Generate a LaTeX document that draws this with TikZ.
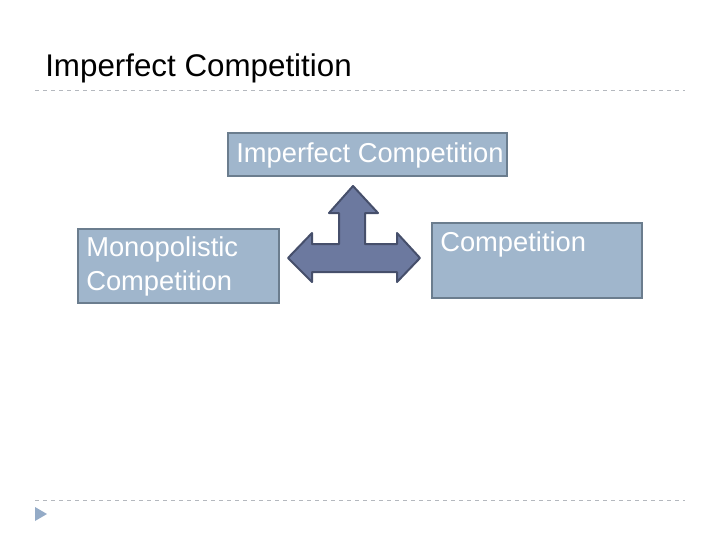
\documentclass[tikz,border=0pt]{standalone}
\usepackage{fontspec}
\setmainfont{Liberation Sans}
\definecolor{boxfill}{HTML}{A0B6CC}
\definecolor{boxline}{HTML}{6B7D8E}
\definecolor{arrfill}{HTML}{6C799F}
\definecolor{arrline}{HTML}{464F6B}
\definecolor{dash}{HTML}{B4B8BE}
\definecolor{tri}{HTML}{94ABC7}
\begin{document}
\begin{tikzpicture}[x=0.75pt,y=-0.75pt,
  boxst/.style={draw=boxline,line width=1.5pt,fill=boxfill},
  txt/.style={text=white,font=\fontsize{20.5}{26}\selectfont,anchor=north west,inner sep=0pt,align=left},
  rule/.style={draw=dash,dashed,line width=0.6pt}]
\useasboundingbox (0,0) rectangle (720,540);
\node[anchor=west,inner sep=0pt,font=\fontsize{23.5}{28}\selectfont] (title) at (45,68) {Imperfect Competition};
\coordinate (r1a) at (35,90); \coordinate (r1b) at (685,90);
\draw[rule] (r1a) -- (r1b);
\coordinate (r2a) at (35,500); \coordinate (r2b) at (685,500);
\draw[rule] (r2a) -- (r2b);
\fill[tri] (35,507) -- (47,514) -- (35,521) -- cycle;
\draw[boxst] (228,133) rectangle (507,176);
\draw[boxst] (78,229) rectangle (279,303);
\draw[boxst] (432,223) rectangle (642,298);
\node[txt] (t1) at (236,142) {Imperfect Competition};
\node[txt] (t2) at (86,236) {Monopolistic\\Competition};
\node[txt] (t3) at (440,231) {Competition};
\draw[arrline,fill=arrfill,line width=1.5pt,line join=round]
 (353,186) -- (378,213) -- (365,213) -- (365,244) -- (397,244) -- (397,233) -- (420,258)
 -- (397,282) -- (397,272) -- (312,272) -- (312,282) -- (288,258) -- (312,233) -- (312,244)
 -- (339,244) -- (339,213) -- (329,213) -- cycle;
\end{tikzpicture}
\end{document}
